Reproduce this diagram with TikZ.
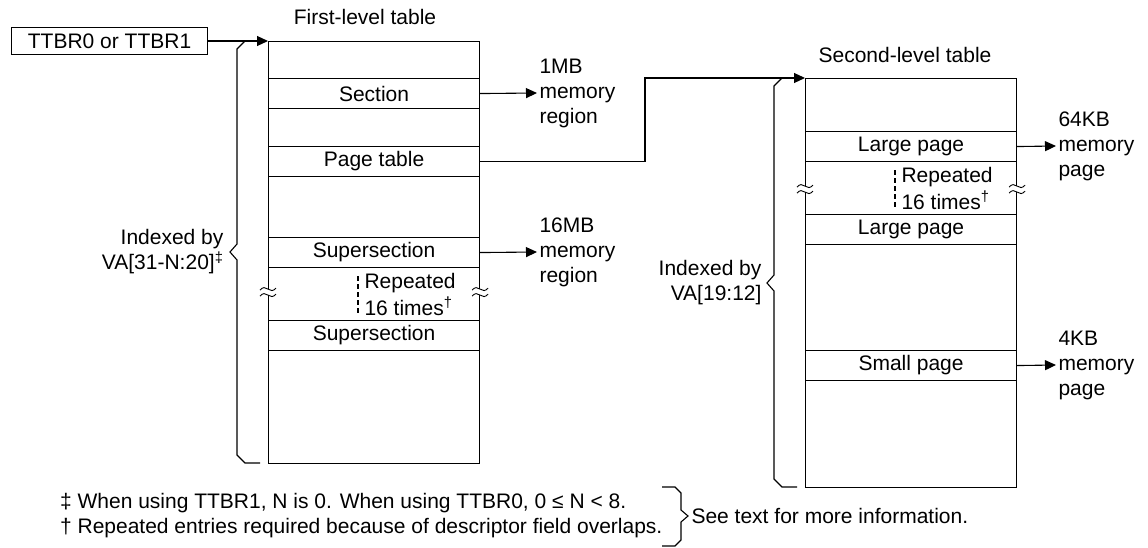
\documentclass[tikz,border=0pt]{standalone}
\usepackage{fontspec}
\setmainfont{Liberation Sans}
\usetikzlibrary{arrows.meta,positioning,calc}

\begin{document}
\begin{tikzpicture}[x=1pt, y=-1pt, line width=1.1pt,
      font=\fontsize{21}{25}\selectfont,
      arr/.style={-{Triangle[length=11pt,width=10pt]}},
      tbl/.style={draw, minimum width=211pt, inner sep=0pt, anchor=north west},
      entry/.style={draw, minimum width=211pt, minimum height=30pt,
                    inner sep=0pt, anchor=north west},
      lbl/.style={align=left, inner sep=2pt, anchor=west},
      idx/.style={align=right, inner sep=0pt, anchor=east},
      rep/.style={align=left, inner sep=0pt, anchor=west},
      brk/.pic={
        \fill[white] (-3,-3) rectangle (3,3);
        \foreach \d in {-3,3}
          \draw[line width=0.9pt] (-8,\d+1) sin (-4,\d-1.5) cos (0,\d) sin (4,\d+1.5) cos (8,\d-1);
      }
    ]
    \useasboundingbox (0,0) rectangle (1148,548);

    \node[draw, minimum width=196pt, minimum height=27pt, inner sep=0pt, anchor=west] (ttbr) at (11,41) {TTBR0 or TTBR1};

    \node (t1) at (365,17) {First-level table};
    \node[tbl, minimum height=422pt] (tbl1) at (268,41) {};
    \node[entry] (sec) at (268,78) {Section};
    \node[entry] (ptab) at (268,146) {Page table};
    \node[entry] (ssa) at (268,237) {Supersection};
    \node[entry] (ssb) at (268,320) {Supersection};
    \draw[dashed, dash pattern=on 5pt off 3pt] ($(ssa.south west)+(90,8)$) -- ++(0,37);
    \node[rep] (repa) at ($(ssa.south west)+(96,26)$) {Repeated\\[2pt]16 times\textsuperscript{†}};
    \pic at ($(ssa.south west)+(0,24)$) {brk};
    \pic at ($(ssa.south east)+(0,24)$) {brk};

    \node (t2) at (905,55) {Second-level table};
    \node[tbl, minimum height=409pt] (tbl2) at (805,78) {};
    \node[entry] (lpa) at (805,131) {Large page};
    \node[entry] (lpb) at (805,214) {Large page};
    \node[entry] (spg) at (805,350) {Small page};
    \draw[dashed, dash pattern=on 5pt off 3pt] ($(lpa.south west)+(90,8)$) -- ++(0,37);
    \node[rep] (repb) at ($(lpa.south west)+(96,26)$) {Repeated\\[2pt]16 times\textsuperscript{†}};
    \pic at ($(lpa.south west)+(0,27)$) {brk};
    \pic at ($(lpa.south east)+(0,27)$) {brk};

    \draw (260,41) -- (245,41) -- (237,49) -- (237,244) -- (230,252) -- (237,260) -- (237,455) -- (245,463) -- (260,463);
    \node[idx] (idxa) at (224,252) {Indexed by\\VA[31-N:20]\textsuperscript{‡}};
    \draw (797,78) -- (782,78) -- (774,86) -- (774,275) -- (767,283) -- (774,291) -- (774,479) -- (782,487) -- (797,487);
    \node[idx] (idxb) at (762,283) {Indexed by\\VA[19:12]};

    \node[lbl] (m1) at (537,93) {1MB\\memory\\region};
    \node[lbl] (m16) at (537,252) {16MB\\memory\\region};
    \node[lbl] (m64) at (1056,146) {64KB\\memory\\page};
    \node[lbl] (m4) at (1056,365) {4KB\\memory\\page};

    \draw[arr] (ttbr.east) -- (tbl1.north west);
    \draw[arr] (sec.east) -- (m1.west);
    \draw[arr] (ssa.east) -- (m16.west);
    \draw[arr] (lpa.east) -- (m64.west);
    \draw[arr] (spg.east) -- (m4.west);
    \coordinate (bend) at (645,78);
    \draw[arr] (ptab.east) -| (bend) -- (tbl2.north west);

    \node[align=left, inner sep=0pt, anchor=east] (fn) at (663,516) {‡ When using TTBR1, N is 0. When using TTBR0, 0 ≤ N < 8.\\† Repeated entries required because of descriptor field overlaps.};
    \draw (662,487) -- (675,487) -- (681,493) -- (681,510) -- (688,516) -- (681,522) -- (681,540) -- (675,546) -- (662,546);
    \node[anchor=west, inner sep=0pt] (see) at (691,516) {See text for more information.};
  \end{tikzpicture}
\end{document}
